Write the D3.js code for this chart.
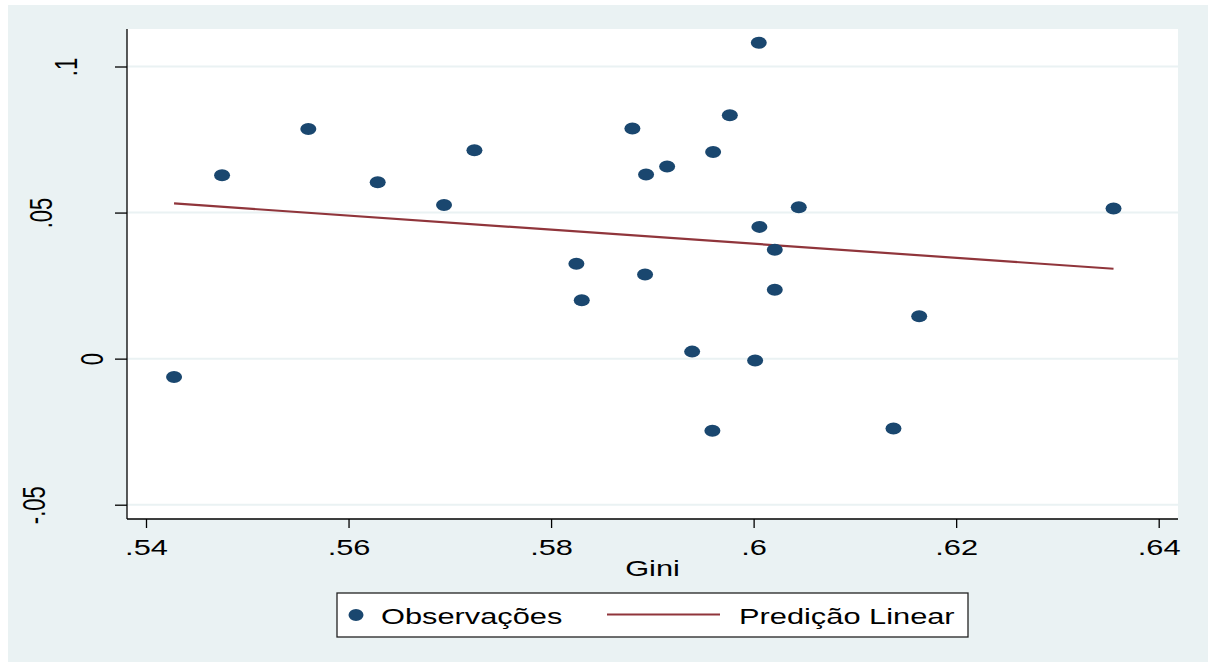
<!DOCTYPE html>
<html>
<head>
<meta charset="utf-8">
<script src="https://cdn.jsdelivr.net/npm/d3@7"></script>
<style>
  html, body { margin: 0; padding: 0; background: #ffffff; }
  svg { display: block; }
  text { font-family: "Liberation Sans", Arial, Helvetica, sans-serif; }
</style>
</head>
<body>
<svg id="chart" width="1208" height="662"></svg>
<script>
// ---- data ----
const gini = [0.54277, 0.54751, 0.55603, 0.56288, 0.56943, 0.57243, 0.58250, 0.58303, 0.58803, 0.58938,
              0.58928, 0.59146, 0.59393, 0.59600, 0.59593, 0.59765, 0.60051, 0.60057, 0.60015, 0.60209,
              0.60209, 0.60446, 0.61381, 0.61635, 0.63554];
const outcome = [-0.0063, 0.0628, 0.0786, 0.0604, 0.0526, 0.0713, 0.0325, 0.0200, 0.0788, 0.0630,
                 0.0288, 0.0658, 0.0024, 0.0707, -0.0247, 0.0833, 0.1081, 0.0451, -0.0006, 0.0373,
                 0.0236, 0.0518, -0.0239, 0.0145, 0.0514];
const xTicks = [0.54, 0.56, 0.58, 0.60, 0.62, 0.64];
const xTickLabels = [".54", ".56", ".58", ".6", ".62", ".64"];
const yTicks = [-0.05, 0, 0.05, 0.1];
const yTickLabels = ["-.05", "0", ".05", ".1"];
const xTitle = "Gini";
const legendLabels = ["Observações", "Predição Linear"];

// ---- layout / style ----
const W = 1208, H = 662;
const plot = { left: 127, right: 1178, top: 29, bottom: 519 };
const sx = 1.4; // horizontal stretch of the original export
const fontSize = 22;
const colMarker = "#1a476f", colLine = "#90353b", colBg = "#eaf2f3", colGrid = "#eaf2f3";
// baseline x (absolute) of each rotated y label, as laid out in the original export
const yLabelBaseX = { "-.05": 45, "0": 103, ".05": 52, ".1": 77 };

const svg = d3.select("#chart");
svg.append("rect").attr("x", 0).attr("y", 0).attr("width", W).attr("height", H).attr("fill", "#ffffff");
svg.append("rect").attr("x", 8).attr("y", 5).attr("width", W - 8).attr("height", H - 5).attr("fill", colBg);
svg.append("rect").attr("x", plot.left).attr("y", plot.top)
  .attr("width", plot.right - plot.left).attr("height", plot.bottom - plot.top).attr("fill", "#ffffff");

const x = d3.scaleLinear().domain([0.54, 0.64]).range([146, 1158.7]);
const y = d3.scaleLinear().domain([-0.05, 0.1]).range([504.7, 66.5]);

// gridlines
svg.append("g").selectAll("line").data(yTicks).join("line")
  .attr("x1", plot.left).attr("x2", plot.right)
  .attr("y1", d => y(d)).attr("y2", d => y(d))
  .attr("stroke", colGrid).attr("stroke-width", 2);

// x axis
const gx = svg.append("g").attr("transform", `translate(0,${plot.bottom})`)
  .call(d3.axisBottom(x).tickValues(xTicks).tickSize(9).tickFormat((d, i) => xTickLabels[i]));
gx.select(".domain").remove();
gx.selectAll(".tick line").attr("stroke", "#000").attr("stroke-width", 1.3);
gx.selectAll(".tick text")
  .attr("y", null).attr("dy", null)
  .attr("transform", `translate(0,36) scale(${sx},1)`)
  .attr("font-size", fontSize).attr("fill", "#000").attr("text-anchor", "middle")
  .style("font-family", '"Liberation Sans", Arial, sans-serif');

// y axis
const gy = svg.append("g").attr("transform", `translate(${plot.left},0)`)
  .call(d3.axisLeft(y).tickValues(yTicks).tickSize(12).tickFormat((d, i) => yTickLabels[i]));
gy.select(".domain").remove();
gy.selectAll(".tick line").attr("stroke", "#000").attr("stroke-width", 1.3);
gy.selectAll(".tick text")
  .attr("x", null).attr("dy", null)
  .attr("text-anchor", "middle")
  .attr("transform", function() {
    const t = d3.select(this).text();
    return `translate(${yLabelBaseX[t] - plot.left},0) scale(${sx},1) rotate(-90)`;
  })
  .attr("font-size", fontSize).attr("fill", "#000")
  .style("font-family", '"Liberation Sans", Arial, sans-serif');

// axis lines
svg.append("line").attr("x1", plot.left).attr("x2", plot.left).attr("y1", plot.top).attr("y2", plot.bottom)
  .attr("stroke", "#000").attr("stroke-width", 1.3);
svg.append("line").attr("x1", plot.left).attr("x2", plot.right).attr("y1", plot.bottom).attr("y2", plot.bottom)
  .attr("stroke", "#000").attr("stroke-width", 1.3);

// x title
svg.append("text").attr("transform", `translate(${(plot.left + plot.right) / 2},576) scale(${sx},1)`)
  .attr("text-anchor", "middle").attr("font-size", fontSize).attr("fill", "#000").text(xTitle);

// linear fit (OLS from the data)
const mx = d3.mean(gini), my = d3.mean(outcome);
let sxy = 0, sxx = 0;
gini.forEach((g, i) => { sxy += (g - mx) * (outcome[i] - my); sxx += (g - mx) * (g - mx); });
const b = sxy / sxx, a = my - b * mx;
const [gmin, gmax] = d3.extent(gini);
const fit = [[gmin, a + b * gmin], [gmax, a + b * gmax]];
svg.append("path").datum(fit)
  .attr("d", d3.line().x(d => x(d[0])).y(d => y(d[1])))
  .attr("fill", "none").attr("stroke", colLine).attr("stroke-width", 2.2);

// points
svg.append("g").selectAll("ellipse").data(gini.map((g, i) => [g, outcome[i]])).join("ellipse")
  .attr("cx", d => x(d[0])).attr("cy", d => y(d[1]))
  .attr("rx", 8).attr("ry", 6).attr("fill", colMarker);

// legend
const lg = svg.append("g");
lg.append("rect").attr("x", 337).attr("y", 593).attr("width", 631).attr("height", 44)
  .attr("fill", "#ffffff").attr("stroke", "#222").attr("stroke-width", 1.3);
lg.append("ellipse").attr("cx", 356).attr("cy", 615).attr("rx", 7.5).attr("ry", 6).attr("fill", colMarker);
lg.append("text").attr("transform", `translate(381,624) scale(${sx},1)`)
  .attr("font-size", fontSize).attr("fill", "#000").text(legendLabels[0]);
lg.append("line").attr("x1", 607).attr("x2", 720).attr("y1", 614.5).attr("y2", 614.5)
  .attr("stroke", colLine).attr("stroke-width", 2.2);
lg.append("text").attr("transform", `translate(739,624) scale(${sx},1)`)
  .attr("font-size", fontSize).attr("fill", "#000").text(legendLabels[1]);
</script>
</body>
</html>
